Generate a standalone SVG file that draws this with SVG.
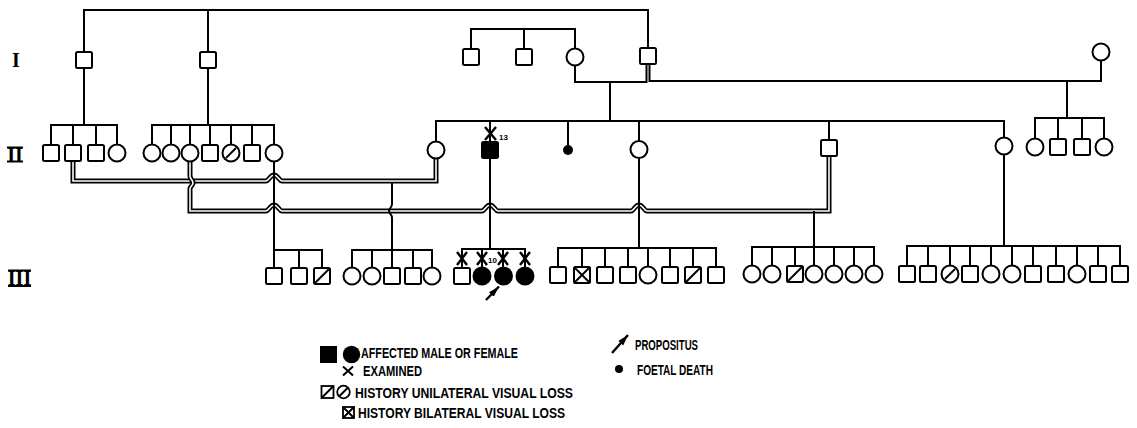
<svg xmlns="http://www.w3.org/2000/svg" width="1137" height="428" viewBox="0 0 1137 428">
<style>
.ln{fill:none;stroke:#000;stroke-width:2}
.dbo{fill:none;stroke:#000;stroke-width:5}
.dbi{fill:none;stroke:#fff;stroke-width:1.6}
.sq,.ci{fill:#fff;stroke:#000;stroke-width:2}
.af{fill:#000;stroke:#000;stroke-width:2}
.hx{stroke:#000;stroke-width:2}
.ex{stroke:#000;stroke-width:2.4}
.gen{font-family:"Liberation Serif",serif;font-weight:bold;font-size:20px;text-anchor:middle}
.lg{font-family:"Liberation Sans",Arial,sans-serif;font-weight:bold;font-size:14px}
.num{font-family:"Liberation Sans",Arial,sans-serif;font-weight:bold;font-size:8px}
</style>
<defs>
<marker id="ah" viewBox="0 0 10 6" refX="10" refY="3" markerWidth="11" markerHeight="8" markerUnits="userSpaceOnUse" orient="auto">
<path d="M0,0 L10,3 L0,6 z" fill="#000"/>
</marker>
<path id="d1" d="M73,161 V181 H266 C269,181 270,175 274,175 C278,175 279,181 282,181 H436 V158.5"/>
<path id="d2" d="M190,161.5 V176 C190,179 193,180 193,183 C193,186 190,186 190,189 V211 H266 C269,211 270,205 274,205 C278,205 279,211 282,211 H482 C485,211 486,205 490,205 C494,205 495,211 498,211 H631 C634,211 635,205 639,205 C643,205 644,211 647,211 H829 V156"/>
</defs>
<rect width="1137" height="428" fill="#fff"/>

<g id="labels">
<text class="gen" x="16" y="67">I</text>
<text class="gen" x="15" y="162">II</text>
<line x1="7" y1="147.5" x2="23" y2="147.5" class="hx" stroke-width="1.5"/>
<line x1="7" y1="161.5" x2="23" y2="161.5" class="hx" stroke-width="1.5"/>
<text class="gen" x="19.5" y="285">III</text>
<line x1="8" y1="270.5" x2="31" y2="270.5" class="hx" stroke-width="1.5"/>
<line x1="8" y1="286" x2="31" y2="286" class="hx" stroke-width="2"/>
</g>

<g id="connectors">
<use href="#d1" class="dbo"/>
<use href="#d1" class="dbi"/>
<use href="#d2" class="dbo"/>
<use href="#d2" class="dbi"/>
<path class="ln" d="M84,52 V10 H648 V48 M208,10 V52"/>
<path class="ln" d="M471,49 V29 H575 V48.5 M524,29 V49"/>
<path class="ln" d="M575,65.5 V82 H646.5 V64"/>
<path class="ln" d="M649.5,64 V81 H1101 V60.5"/>
<path class="ln" d="M610,82 V121"/>
<path class="ln" d="M436,141 V121 H1004 V137.5 M490,121 V142 M568,121 V145 M639,121 V141 M829,121 V140"/>
<path class="ln" d="M1067,81 V118 M1035,138.5 V118 H1104 V138.5 M1058,118 V139 M1082,118 V139"/>
<path class="ln" d="M84,68 V125 M51,145 V125 H117 V144.5 M73,125 V145 M96,125 V145"/>
<path class="ln" d="M208,68 V125 M152,144.5 V125 H274 V144.5 M171,125 V144.5 M190,125 V144.5 M210,125 V145 M231,125 V144.5 M252,125 V145"/>
<path class="ln" d="M274,161.5 V268 M274,250 H322 V268 M299,250 V268"/>
<path class="ln" d="M392,183 V204 C392,208 389,208 389,211 C389,214 392,214 392,218 V268 M352,267.5 V250 H432 V267.5 M372,250 V267.5 M413,250 V268"/>
<path class="ln" d="M490,158 V249 M462,268 V249 H525 V267.5 M482,249 V267.5 M503,249 V267.5"/>
<path class="ln" d="M639,158.5 V248 M558,267 V248 H716 V267 M582,248 V267 M605,248 V267 M628,248 V267 M648,248 V266.5 M670,248 V267 M693,248 V267"/>
<path class="ln" d="M814,211 V265.5 M752,265.5 V247 H874 V265.5 M772,247 V265.5 M795,247 V266 M834,247 V265.5 M854,247 V265.5"/>
<path class="ln" d="M1004,154.5 V246 M907,266 V246 H1120 V266 M928,246 V266 M950,246 V265.5 M970,246 V266 M991,246 V265.5 M1012,246 V265.5 M1033,246 V266 M1056,246 V266 M1077,246 V265.5 M1098,246 V266"/>
</g>

<g id="gen1">
<g id="I-1"><rect class="sq" x="76" y="52" width="16" height="16" rx="1.5"/></g>
<g id="I-2"><rect class="sq" x="200" y="52" width="16" height="16" rx="1.5"/></g>
<g id="I-3"><rect class="sq" x="463" y="49" width="16" height="16" rx="1.5"/></g>
<g id="I-4"><rect class="sq" x="516" y="49" width="16" height="16" rx="1.5"/></g>
<g id="I-5"><circle class="ci" cx="575" cy="57" r="8.5"/></g>
<g id="I-6"><rect class="sq" x="640" y="48" width="16" height="16" rx="1.5"/></g>
<g id="I-7"><circle class="ci" cx="1101" cy="52" r="8.5"/></g>
</g>

<g id="gen2">
<g id="II-1"><rect class="sq" x="43" y="145" width="16" height="16" rx="1.5"/></g>
<g id="II-2"><rect class="sq" x="65" y="145" width="16" height="16" rx="1.5"/></g>
<g id="II-3"><rect class="sq" x="88" y="145" width="16" height="16" rx="1.5"/></g>
<g id="II-4"><circle class="ci" cx="117" cy="153" r="8.5"/></g>
<g id="II-5"><circle class="ci" cx="152" cy="153" r="8.5"/></g>
<g id="II-6"><circle class="ci" cx="171" cy="153" r="8.5"/></g>
<g id="II-7"><circle class="ci" cx="190" cy="153" r="8.5"/></g>
<g id="II-8"><rect class="sq" x="202" y="145" width="16" height="16" rx="1.5"/></g>
<g id="II-9"><circle class="ci" cx="231" cy="153" r="8.5"/><line class="hx" x1="226" y1="158" x2="236" y2="148"/></g>
<g id="II-10"><rect class="sq" x="244" y="145" width="16" height="16" rx="1.5"/></g>
<g id="II-11"><circle class="ci" cx="274" cy="153" r="8.5"/></g>
<g id="II-12"><circle class="ci" cx="436" cy="150" r="8.5"/></g>
<g id="II-13"><rect class="af" x="482" y="142" width="16" height="16" rx="1.5"/>
<line class="ex" x1="485" y1="127" x2="496" y2="140"/><line class="ex" x1="496" y1="127" x2="485" y2="140"/>
<text class="num" x="499" y="140">13</text></g>
<g id="II-14"><circle cx="568" cy="150" r="5" fill="#000"/></g>
<g id="II-15"><circle class="ci" cx="639" cy="149.5" r="8.5"/></g>
<g id="II-16"><rect class="sq" x="821" y="140" width="16" height="16" rx="1.5"/></g>
<g id="II-17"><circle class="ci" cx="1004" cy="146" r="8.5"/></g>
<g id="II-18"><circle class="ci" cx="1035" cy="147" r="8.5"/></g>
<g id="II-19"><rect class="sq" x="1050" y="139" width="16" height="16" rx="1.5"/></g>
<g id="II-20"><rect class="sq" x="1074" y="139" width="16" height="16" rx="1.5"/></g>
<g id="II-21"><circle class="ci" cx="1104" cy="147" r="8.5"/></g>
</g>

<g id="gen3">
<g id="III-1"><rect class="sq" x="266" y="268" width="16" height="16" rx="1.5"/></g>
<g id="III-2"><rect class="sq" x="291" y="268" width="16" height="16" rx="1.5"/></g>
<g id="III-3"><rect class="sq" x="314" y="268" width="16" height="16" rx="1.5"/><line class="hx" x1="315" y1="283" x2="329" y2="269"/></g>
<g id="III-4"><circle class="ci" cx="352" cy="276" r="8.5"/></g>
<g id="III-5"><circle class="ci" cx="372" cy="276" r="8.5"/></g>
<g id="III-6"><rect class="sq" x="384" y="268" width="16" height="16" rx="1.5"/></g>
<g id="III-7"><rect class="sq" x="405" y="268" width="16" height="16" rx="1.5"/></g>
<g id="III-8"><circle class="ci" cx="432" cy="276" r="8.5"/></g>
<g id="III-9"><rect class="sq" x="454" y="268" width="16" height="16" rx="1.5"/>
<line class="ex" x1="457" y1="252" x2="467" y2="265"/><line class="ex" x1="467" y1="252" x2="457" y2="265"/></g>
<g id="III-10"><circle class="af" cx="482" cy="276" r="8.5"/>
<line class="ex" x1="477" y1="252" x2="487" y2="265"/><line class="ex" x1="487" y1="252" x2="477" y2="265"/>
<text class="num" x="488" y="263">10</text></g>
<g id="III-11"><circle class="af" cx="503.5" cy="276" r="8.5"/>
<line class="ex" x1="498" y1="252" x2="508" y2="265"/><line class="ex" x1="508" y1="252" x2="498" y2="265"/>
<line x1="486" y1="300" x2="499" y2="286.5" stroke="#000" stroke-width="2.4" marker-end="url(#ah)"/></g>
<g id="III-12"><circle class="af" cx="525" cy="276" r="8.5"/>
<line class="ex" x1="520" y1="252" x2="530" y2="265"/><line class="ex" x1="530" y1="252" x2="520" y2="265"/></g>
<g id="III-13"><rect class="sq" x="550" y="267" width="16" height="16" rx="1.5"/></g>
<g id="III-14"><rect class="sq" x="574" y="267" width="16" height="16" rx="1.5"/><line class="hx" x1="574" y1="267" x2="590" y2="283"/><line class="hx" x1="590" y1="267" x2="574" y2="283"/></g>
<g id="III-15"><rect class="sq" x="597" y="267" width="16" height="16" rx="1.5"/></g>
<g id="III-16"><rect class="sq" x="620" y="267" width="16" height="16" rx="1.5"/></g>
<g id="III-17"><circle class="ci" cx="648" cy="275" r="8.5"/></g>
<g id="III-18"><rect class="sq" x="662" y="267" width="16" height="16" rx="1.5"/></g>
<g id="III-19"><rect class="sq" x="685" y="267" width="16" height="16" rx="1.5"/><line class="hx" x1="686" y1="282" x2="700" y2="268"/></g>
<g id="III-20"><rect class="sq" x="708" y="267" width="16" height="16" rx="1.5"/></g>
<g id="III-21"><circle class="ci" cx="752" cy="274" r="8.5"/></g>
<g id="III-22"><circle class="ci" cx="772" cy="274" r="8.5"/></g>
<g id="III-23"><rect class="sq" x="787" y="266" width="16" height="16" rx="1.5"/><line class="hx" x1="788" y1="281" x2="802" y2="267"/></g>
<g id="III-24"><circle class="ci" cx="814" cy="274" r="8.5"/></g>
<g id="III-25"><circle class="ci" cx="834" cy="274" r="8.5"/></g>
<g id="III-26"><circle class="ci" cx="854" cy="274" r="8.5"/></g>
<g id="III-27"><circle class="ci" cx="874" cy="274" r="8.5"/></g>
<g id="III-28"><rect class="sq" x="899" y="266" width="16" height="16" rx="1.5"/></g>
<g id="III-29"><rect class="sq" x="920" y="266" width="16" height="16" rx="1.5"/></g>
<g id="III-30"><circle class="ci" cx="950" cy="274" r="8.5"/><line class="hx" x1="945" y1="279" x2="955" y2="269"/></g>
<g id="III-31"><rect class="sq" x="962" y="266" width="16" height="16" rx="1.5"/></g>
<g id="III-32"><circle class="ci" cx="991" cy="274" r="8.5"/></g>
<g id="III-33"><circle class="ci" cx="1012" cy="274" r="8.5"/></g>
<g id="III-34"><rect class="sq" x="1025" y="266" width="16" height="16" rx="1.5"/></g>
<g id="III-35"><rect class="sq" x="1048" y="266" width="16" height="16" rx="1.5"/></g>
<g id="III-36"><circle class="ci" cx="1077" cy="274" r="8.5"/></g>
<g id="III-37"><rect class="sq" x="1090" y="266" width="16" height="16" rx="1.5"/></g>
<g id="III-38"><rect class="sq" x="1112" y="266" width="16" height="16" rx="1.5"/></g>
</g>

<g id="legend">
<rect x="320" y="346" width="17" height="17" fill="#000"/>
<circle cx="351.5" cy="354.5" r="8.7" fill="#000"/>
<text class="lg" x="361" y="358" textLength="157" lengthAdjust="spacingAndGlyphs">AFFECTED MALE OR FEMALE</text>
<line class="hx" x1="343" y1="366.5" x2="353" y2="375.5"/><line class="hx" x1="353" y1="366.5" x2="343" y2="375.5"/>
<text class="lg" x="363" y="375.5" textLength="59" lengthAdjust="spacingAndGlyphs">EXAMINED</text>
<rect x="321.5" y="386" width="12" height="12" fill="#fff" stroke="#000" stroke-width="1.8"/>
<line class="hx" x1="322" y1="397.5" x2="333" y2="386.5"/>
<circle cx="343.5" cy="392" r="6.3" fill="#fff" stroke="#000" stroke-width="1.8"/>
<line class="hx" x1="339.5" y1="396" x2="347.5" y2="388"/>
<text class="lg" x="355" y="397.5" textLength="218" lengthAdjust="spacingAndGlyphs">HISTORY UNILATERAL VISUAL LOSS</text>
<rect x="343" y="407" width="11" height="11" fill="#fff" stroke="#000" stroke-width="1.8"/>
<line class="hx" x1="343" y1="407" x2="354" y2="418"/><line class="hx" x1="354" y1="407" x2="343" y2="418"/>
<text class="lg" x="358" y="418" textLength="207" lengthAdjust="spacingAndGlyphs">HISTORY BILATERAL VISUAL LOSS</text>
<line x1="612" y1="353" x2="628" y2="335" stroke="#000" stroke-width="2.4" marker-end="url(#ah)"/>
<text class="lg" x="635" y="350" textLength="63" lengthAdjust="spacingAndGlyphs">PROPOSITUS</text>
<circle cx="619" cy="369" r="4" fill="#000"/>
<text class="lg" x="637" y="375" textLength="76" lengthAdjust="spacingAndGlyphs">FOETAL DEATH</text>
</g>
</svg>
